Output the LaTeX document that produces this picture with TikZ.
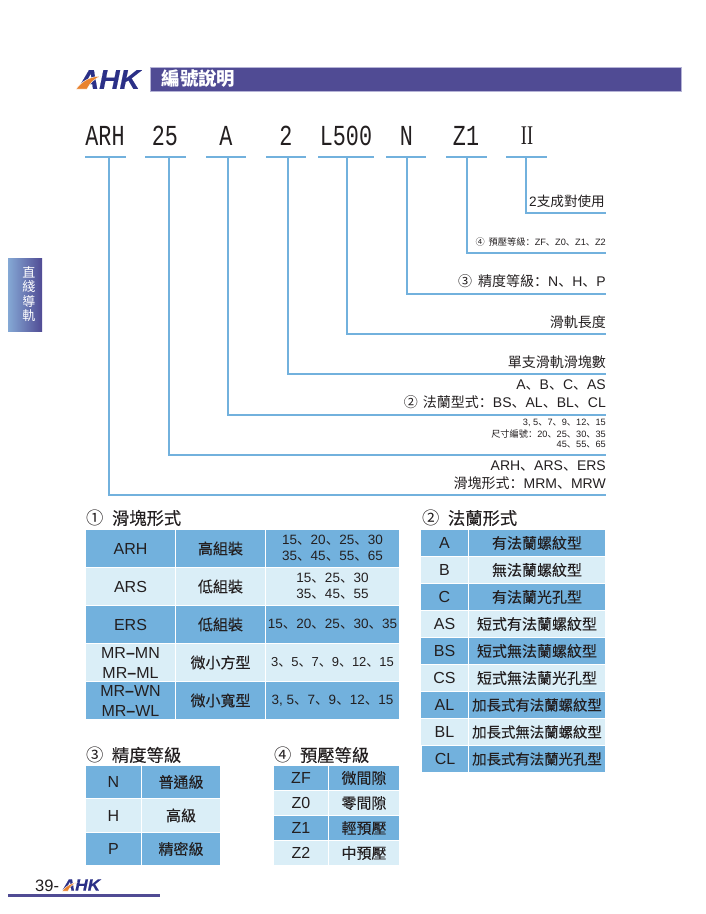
\documentclass[tikz,border=0pt]{standalone}
\usepackage{fontspec}
\setmainfont{Liberation Sans}
\newfontfamily\cjk{Noto Sans CJK TC}
\newfontfamily\cjkheavy[FakeBold=0.12]{Noto Sans CJK TC}
\newfontfamily\cjkpunct{Noto Sans CJK SC}
\newfontfamily\codefont[FakeStretch=0.75]{Liberation Mono}
\newfontfamily\romanfont[FakeStretch=0.68]{Liberation Serif}
\newfontfamily\logofont[FakeStretch=1.05,FakeBold=0.6]{Liberation Sans Bold Italic}
\newcommand{\zh}[1]{{\cjk #1}}
\newcommand{\dunhao}{{\cjkpunct 、}}
\newcommand{\maohao}{{\cjkpunct ：}}

\begin{document}
\begin{tikzpicture}
		[x=1pt,y=-1pt,line cap=butt,
		%Styles
		rail/.style={draw=railcolor,line width=1.8pt},
		code text/.style={text=inkcolor,inner sep=0pt,font=\codefont\fontsize{29}{30}\selectfont},
		side label/.style={anchor=east,text=inkcolor,inner sep=0pt,font=\fontsize{14}{17}\selectfont},
		small label/.style={anchor=east,text=inkcolor,inner sep=0pt,font=\fontsize{9.2}{11}\selectfont},
		table title/.style={anchor=west,text=inkcolor,inner sep=0pt,font=\cjkheavy\fontsize{17.3}{20}\selectfont},
		logo swoosh/.style={fill=logoorange,draw=white,line width=.4pt},
		dark cell/.style={fill=celldark,inner sep=0pt,text=inkcolor,align=center},
		light cell/.style={fill=celllight,inner sep=0pt,text=inkcolor,align=center},
		latin text/.style={font=\fontsize{16}{20}\selectfont},
		zh text/.style={font=\cjkheavy\fontsize{15}{18}\selectfont},
		num text/.style={font=\fontsize{13.5}{16}\selectfont},
		long zh text/.style={font=\cjkheavy\fontsize{14.4}{18}\selectfont},
		first col/.style={minimum width=89pt,minimum height=37pt},
		third col/.style={minimum width=133pt,minimum height=37pt},
		flange a/.style={minimum width=47pt,minimum height=26pt},
		flange b/.style={minimum width=136pt,minimum height=26pt},
		grade a/.style={minimum width=55pt,minimum height=32.5pt},
		grade b/.style={minimum width=78pt,minimum height=32.5pt},
		load a/.style={minimum width=54pt,minimum height=24pt},
		load b/.style={minimum width=70pt,minimum height=24pt}
		]
		
		%Colors
		\definecolor{inkcolor}{HTML}{231F20}
		\definecolor{railcolor}{HTML}{72B1DD}
		\definecolor{celldark}{HTML}{72B1DD}
		\definecolor{celllight}{HTML}{DAEEF7}
		\definecolor{barcolor}{HTML}{504B94}
		\definecolor{baredge}{HTML}{B5B3D6}
		\definecolor{tableft}{HTML}{85A9D5}
		\definecolor{logoblue}{HTML}{2B3087}
		\definecolor{logoorange}{HTML}{E9822E}
		
		\useasboundingbox (0, 0) rectangle (706, 914);
		
		%Header
		\node[fill=barcolor,draw=baredge,line width=.7pt,minimum width=531pt,minimum height=24pt,inner sep=0pt] (bar) at (415.5, 79.5) {};
		\node[anchor=west,text=white,inner sep=0pt,font=\cjk\bfseries\fontsize{18.4}{20}\selectfont] (bartitle) at (161.5, 79) {編號說明};
		\node[anchor=west,text=logoblue,inner sep=0pt,font=\logofont\fontsize{27}{28}\selectfont] (logo) at (78.5, 79.5) {AHK};
		\path[logo swoosh] (76, 89) .. controls (82, 81) and (90, 76.5) .. (101, 76) .. controls (94, 79) and (90, 83) .. (87, 89) -- cycle;
		
		%Side tab
		\node[left color=tableft,right color=barcolor,minimum width=34pt,minimum height=73pt,inner sep=0pt] (tab) at (25, 294.5) {};
		\node[text=white,inner sep=0pt,align=center,font=\cjk\fontsize{13}{14.3}\selectfont] (tabtext) at (29, 294) {直\\綫\\導\\軌};
		
		%Part number
		\node[code text] (cARH) at (105, 136) {ARH};
		\node[code text] (c25) at (165, 136) {25};
		\node[code text] (cA) at (226, 136) {A};
		\node[code text] (c2) at (286, 136) {2};
		\node[code text] (cL) at (346, 136) {L500};
		\node[code text] (cN) at (406.5, 136) {N};
		\node[code text] (cZ) at (466, 136) {Z1};
		\node[text=inkcolor,inner sep=0pt,font=\romanfont\fontsize{27}{28}\selectfont] (cII) at (527, 136) {II};
		
		\coordinate (aARH) at (85, 156.7);
		\coordinate (bARH) at (126, 156.7);
		\coordinate (a25) at (145, 156.7);
		\coordinate (b25) at (186, 156.7);
		\coordinate (aA) at (206, 156.7);
		\coordinate (bA) at (246, 156.7);
		\coordinate (a2) at (266, 156.7);
		\coordinate (b2) at (306, 156.7);
		\coordinate (aL) at (318, 156.7);
		\coordinate (bL) at (374, 156.7);
		\coordinate (aN) at (386, 156.7);
		\coordinate (bN) at (426, 156.7);
		\coordinate (aZ) at (446, 156.7);
		\coordinate (bZ) at (487, 156.7);
		\coordinate (aII) at (506, 156.7);
		\coordinate (bII) at (547, 156.7);
		
		\draw[rail] (aARH) -- (bARH);
		\draw[rail] (a25) -- (b25);
		\draw[rail] (aA) -- (bA);
		\draw[rail] (a2) -- (b2);
		\draw[rail] (aL) -- (bL);
		\draw[rail] (aN) -- (bN);
		\draw[rail] (aZ) -- (bZ);
		\draw[rail] (aII) -- (bII);
		
		\coordinate (tARH) at (109, 156.7);
		\coordinate (t25) at (169, 156.7);
		\coordinate (tA) at (228, 156.7);
		\coordinate (t2) at (288, 156.7);
		\coordinate (tL) at (347, 156.7);
		\coordinate (tN) at (407, 156.7);
		\coordinate (tZ) at (467, 156.7);
		\coordinate (tII) at (526, 156.7);
		
		\coordinate (eARH) at (606, 495);
		\coordinate (e25) at (606, 455);
		\coordinate (eA) at (606, 414.7);
		\coordinate (e2) at (606, 374);
		\coordinate (eL) at (606, 333.7);
		\coordinate (eN) at (606, 293.7);
		\coordinate (eZ) at (606, 253);
		\coordinate (eII) at (606, 213);
		
		\draw[rail] (tARH) |- (eARH);
		\draw[rail] (t25) |- (e25);
		\draw[rail] (tA) |- (eA);
		\draw[rail] (t2) |- (e2);
		\draw[rail] (tL) |- (eL);
		\draw[rail] (tN) |- (eN);
		\draw[rail] (tZ) |- (eZ);
		\draw[rail] (tII) |- (eII);
		
		%Labels on the rails
		\node[side label,font=\fontsize{13.6}{17}\selectfont] (lII) at (605, 201) {2\zh{支成對使用}};
		\node[small label] (lZ) at (606, 242) {\zh{④}\hspace{4pt}\zh{預壓等級}\maohao ZF\dunhao Z0\dunhao Z1\dunhao Z2};
		\node[side label] (lN) at (606, 281) {\zh{③}\hspace{6pt}\zh{精度等級}\maohao N\dunhao H\dunhao P};
		\node[side label] (lL) at (606, 322) {\zh{滑軌長度}};
		\node[side label] (l2) at (606, 362) {\zh{單支滑軌滑塊數}};
		\node[side label] (lAa) at (606, 385) {A\dunhao B\dunhao C\dunhao AS};
		\node[side label] (lAb) at (606, 402.5) {\zh{②}\hspace{5pt}\zh{法蘭型式}\maohao BS\dunhao AL\dunhao BL\dunhao CL};
		\node[small label] (l25a) at (606, 423) {3, 5\dunhao 7\dunhao 9\dunhao 12\dunhao 15};
		\node[small label] (l25b) at (606, 434) {\zh{尺寸編號}\maohao 20\dunhao 25\dunhao 30\dunhao 35};
		\node[small label] (l25c) at (606, 445) {45\dunhao 55\dunhao 65};
		\node[side label] (lARHa) at (606, 466) {ARH\dunhao ARS\dunhao ERS};
		\node[side label] (lARHb) at (606, 483) {\zh{滑塊形式}\maohao MRM\dunhao MRW};
		
		%Table 1
		\node[table title] (title1) at (86.5, 518) {\zh{①}\hspace{8pt}滑塊形式};
		\node[dark cell,first col,latin text] (t1a1) at (130.5, 548.5) {ARH};
		\node[dark cell,first col,zh text] (t1a2) at (220.5, 548.5) {高組裝};
		\node[dark cell,third col,num text] (t1a3) at (332.5, 548.5) {15\dunhao 20\dunhao 25\dunhao 30\\35\dunhao 45\dunhao 55\dunhao 65};
		\node[light cell,first col,latin text] (t1b1) at (130.5, 586.5) {ARS};
		\node[light cell,first col,zh text] (t1b2) at (220.5, 586.5) {低組裝};
		\node[light cell,third col,num text] (t1b3) at (332.5, 586.5) {15\dunhao 25\dunhao 30\\35\dunhao 45\dunhao 55};
		\node[dark cell,first col,latin text] (t1c1) at (130.5, 624.5) {ERS};
		\node[dark cell,first col,zh text] (t1c2) at (220.5, 624.5) {低組裝};
		\node[dark cell,third col,num text] (t1c3) at (332.5, 624.5) {15\dunhao 20\dunhao 25\dunhao 30\dunhao 35};
		\node[light cell,first col,latin text] (t1d1) at (130.5, 662.5) {MR{\bfseries –}MN\\MR{\bfseries –}ML};
		\node[light cell,first col,zh text] (t1d2) at (220.5, 662.5) {微小方型};
		\node[light cell,third col,num text,font=\fontsize{13}{16}\selectfont] (t1d3) at (332.5, 662.5) {3\dunhao 5\dunhao 7\dunhao 9\dunhao 12\dunhao 15};
		\node[dark cell,first col,latin text] (t1e1) at (130.5, 700.5) {MR{\bfseries –}WN\\MR{\bfseries –}WL};
		\node[dark cell,first col,zh text] (t1e2) at (220.5, 700.5) {微小寬型};
		\node[dark cell,third col,num text] (t1e3) at (332.5, 700.5) {3, 5\dunhao 7\dunhao 9\dunhao 12\dunhao 15};
		
		%Table 2
		\node[table title] (title2) at (422.5, 518) {\zh{②}\hspace{8pt}法蘭形式};
		\node[dark cell,flange a,latin text] (t2a1) at (444.5, 543) {A};
		\node[dark cell,flange b,zh text] (t2a2) at (537, 543) {有法蘭螺紋型};
		\node[light cell,flange a,latin text] (t2b1) at (444.5, 570) {B};
		\node[light cell,flange b,zh text] (t2b2) at (537, 570) {無法蘭螺紋型};
		\node[dark cell,flange a,latin text] (t2c1) at (444.5, 597) {C};
		\node[dark cell,flange b,zh text] (t2c2) at (537, 597) {有法蘭光孔型};
		\node[light cell,flange a,latin text] (t2d1) at (444.5, 624) {AS};
		\node[light cell,flange b,zh text] (t2d2) at (537, 624) {短式有法蘭螺紋型};
		\node[dark cell,flange a,latin text] (t2e1) at (444.5, 651) {BS};
		\node[dark cell,flange b,zh text] (t2e2) at (537, 651) {短式無法蘭螺紋型};
		\node[light cell,flange a,latin text] (t2f1) at (444.5, 678) {CS};
		\node[light cell,flange b,zh text] (t2f2) at (537, 678) {短式無法蘭光孔型};
		\node[dark cell,flange a,latin text] (t2g1) at (444.5, 705) {AL};
		\node[dark cell,flange b,long zh text] (t2g2) at (537, 705) {加長式有法蘭螺紋型};
		\node[light cell,flange a,latin text] (t2h1) at (444.5, 732) {BL};
		\node[light cell,flange b,long zh text] (t2h2) at (537, 732) {加長式無法蘭螺紋型};
		\node[dark cell,flange a,latin text,minimum width=46pt] (t2i1) at (445, 759) {CL};
		\node[dark cell,flange b,long zh text] (t2i2) at (537, 759) {加長式有法蘭光孔型};
		
		%Table 3
		\node[table title] (title3) at (86.5, 755) {\zh{③}\hspace{8pt}精度等級};
		\node[dark cell,grade a,latin text] (t3a1) at (113.5, 782) {N};
		\node[dark cell,grade b,zh text] (t3a2) at (181, 782) {普通級};
		\node[light cell,grade a,latin text] (t3b1) at (113.5, 815.5) {H};
		\node[light cell,grade b,zh text] (t3b2) at (181, 815.5) {高級};
		\node[dark cell,grade a,latin text] (t3c1) at (113.5, 849) {P};
		\node[dark cell,grade b,zh text] (t3c2) at (181, 849) {精密級};
		
		%Table 4
		\node[table title] (title4) at (274.5, 755) {\zh{④}\hspace{8pt}預壓等級};
		\node[dark cell,load a,latin text] (t4a1) at (301, 778) {ZF};
		\node[dark cell,load b,zh text] (t4a2) at (364, 778) {微間隙};
		\node[light cell,load a,latin text] (t4b1) at (301, 803) {Z0};
		\node[light cell,load b,zh text] (t4b2) at (364, 803) {零間隙};
		\node[dark cell,load a,latin text] (t4c1) at (301, 828) {Z1};
		\node[dark cell,load b,zh text] (t4c2) at (364, 828) {輕預壓};
		\node[light cell,load a,latin text] (t4d1) at (301, 853) {Z2};
		\node[light cell,load b,zh text] (t4d2) at (364, 853) {中預壓};
		
		%Footer
		\node[anchor=west,text=inkcolor,inner sep=0pt,font=\fontsize{16.5}{18}\selectfont] (page) at (35, 885.5) {39-};
		\node[anchor=west,text=logoblue,inner sep=0pt,font=\logofont\fontsize{16.5}{18}\selectfont] (footlogo) at (62.5, 885) {AHK};
		\path[logo swoosh] (62, 891) .. controls (66, 886) and (71, 883) .. (77, 882.5) .. controls (72, 884.5) and (70, 887) .. (68, 891) -- cycle;
		\coordinate (footL) at (8, 895);
		\coordinate (footR) at (160, 895);
		\draw[draw=barcolor,line width=3pt] (footL) -- (footR);
		
\end{tikzpicture}
\end{document}
